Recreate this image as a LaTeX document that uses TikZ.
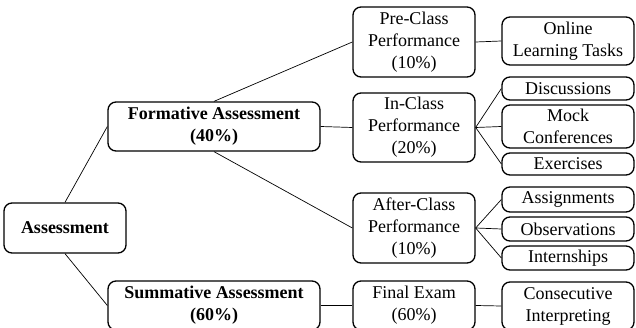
\documentclass[tikz,border=0pt]{standalone}
\usepackage{fontspec}
\setmainfont{Liberation Serif}
\begin{document}
\begin{tikzpicture}[x=1pt,y=-1pt,
  box/.style={draw, rounded corners=8pt, line width=1.3pt, align=center, inner sep=0pt,
    font=\fontsize{18}{22}\selectfont},
  bbox/.style={box, font=\fontsize{18}{22}\selectfont\bfseries},
  conn/.style={line width=0.7pt}]
\useasboundingbox (0,0) rectangle (636,328);
\clip (0,0) rectangle (636,328);
% level 0
\node[bbox, minimum width=122pt, minimum height=50pt] (A) at (65,228) {Assessment};
% level 1
\node[bbox, minimum width=212pt, minimum height=49pt] (F) at (214,126.5) {Formative Assessment\\(40\%)};
\node[bbox, minimum width=212pt, minimum height=49pt] (S) at (214,305.5) {Summative Assessment\\(60\%)};
% level 2
\node[box, minimum width=122pt, minimum height=70pt] (P) at (414,42) {Pre-Class\\Performance\\(10\%)};
\node[box, minimum width=122pt, minimum height=69pt] (I) at (414,127.5) {In-Class\\Performance\\(20\%)};
\node[box, minimum width=122pt, minimum height=70pt] (AC) at (414,228) {After-Class\\Performance\\(10\%)};
\node[box, minimum width=122pt, minimum height=49pt] (FE) at (414,305.5) {Final Exam\\(60\%)};
% level 3
\node[box, minimum width=132pt, minimum height=48pt] (O) at (568,41) {Online\\Learning Tasks};
\node[box, minimum width=132pt, minimum height=23pt] (D) at (568,88.5) {Discussions};
\node[box, minimum width=132pt, minimum height=43pt] (M) at (568,126.5) {Mock\\Conferences};
\node[box, minimum width=132pt, minimum height=22pt] (E) at (568,164) {Exercises};
\node[box, minimum width=132pt, minimum height=25pt] (As) at (568,199.5) {Assignments};
\node[box, minimum width=132pt, minimum height=24pt] (Ob) at (568,229) {Observations};
\node[box, minimum width=132pt, minimum height=24pt] (In) at (568,258) {Internships};
\node[box, minimum width=132pt, minimum height=48pt] (C) at (568,306) {Consecutive\\Interpreting};
% connectors
\draw[conn] (A.north) -- (F.west);
\draw[conn] (A.south) -- (S.west);
\draw[conn] (F.north) -- (P.west);
\draw[conn] (F.east) -- (I.west);
\draw[conn] (F.south) -- (AC.west);
\draw[conn] (S.east) -- (FE.west);
\draw[conn] (P.east) -- (O.west);
\draw[conn] (I.east) -- (D.west);
\draw[conn] (I.east) -- (M.west);
\draw[conn] (I.east) -- (E.west);
\draw[conn] (AC.east) -- (As.west);
\draw[conn] (AC.east) -- (Ob.west);
\draw[conn] (AC.east) -- (In.west);
\draw[conn] (FE.east) -- (C.west);
\end{tikzpicture}
\end{document}
